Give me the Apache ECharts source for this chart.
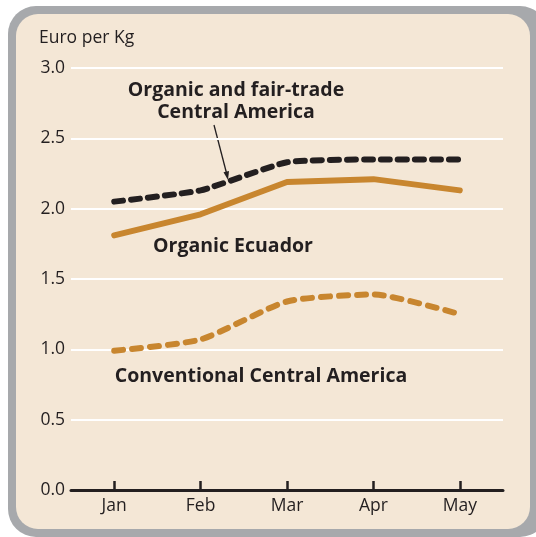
<!DOCTYPE html>
<html>
<head>
<meta charset="utf-8">
<script src="https://cdn.jsdelivr.net/npm/echarts@6/dist/echarts.min.js"></script>
<style>
html,body{margin:0;padding:0;background:#ffffff;}
#c{width:536px;height:537px;}
</style>
</head>
<body>
<div id="c"></div>
<script>
var months = ['Jan', 'Feb', 'Mar', 'Apr', 'May'];
var organicFairTradeCA = [2.05, 2.13, 2.33, 2.35, 2.35];
var organicEcuador = [1.81, 1.96, 2.19, 2.21, 2.13];
var conventionalCA = [0.99, 1.07, 1.34, 1.39, 1.25];
var yTicks = [0, 0.5, 1.0, 1.5, 2.0, 2.5, 3.0];

var ORANGE = '#c8862f';
var DARK = '#231f20';
var FONT = '"Open Sans", sans-serif';

var chart = echarts.init(document.getElementById('c'), null, {renderer: 'canvas'});
chart.setOption({
  animation: false,
  backgroundColor: '#ffffff',
  grid: {left: 71, right: 33, top: 68, bottom: 47},
  xAxis: {
    type: 'category',
    data: months,
    boundaryGap: true,
    axisLine: {lineStyle: {color: DARK, width: 3}},
    axisTick: {show: true, inside: true, alignWithLabel: true, length: 9, lineStyle: {color: DARK, width: 2.5}},
    axisLabel: {color: DARK, fontSize: 17.5, fontFamily: FONT, margin: 7}
  },
  yAxis: {
    type: 'value',
    min: yTicks[0],
    max: yTicks[yTicks.length - 1],
    interval: 0.5,
    axisLine: {show: false},
    axisTick: {show: false},
    axisLabel: {color: DARK, fontSize: 17.5, fontFamily: FONT, margin: 6,
      formatter: function (v) { return v.toFixed(1); }},
    splitLine: {lineStyle: {color: '#ffffff', width: 2}}
  },
  series: [
    {
      name: 'Conventional Central America', type: 'line', data: conventionalCA,
      symbol: 'none', smooth: 0.2, z: 3,
      lineStyle: {color: ORANGE, width: 6, type: [9, 9], cap: 'round', join: 'round'}
    },
    {
      name: 'Organic Ecuador', type: 'line', data: organicEcuador,
      symbol: 'none', smooth: false, z: 3,
      lineStyle: {color: ORANGE, width: 6, cap: 'round', join: 'round'}
    },
    {
      name: 'Organic and fair-trade Central America', type: 'line', data: organicFairTradeCA,
      symbol: 'none', smooth: 0.15, z: 4,
      lineStyle: {color: DARK, width: 6, type: [9, 8], cap: 'round', join: 'round'}
    }
  ],
  graphic: [
    {type: 'rect', z: -10, silent: true, shape: {x: 8, y: 6, width: 540, height: 531, r: 28}, style: {fill: '#a7a9ac'}},
    {type: 'rect', z: -9, silent: true, shape: {x: 16, y: 14, width: 514, height: 515, r: 22}, style: {fill: '#f4e7d6'}},
    {type: 'text', x: 39, y: 38, style: {text: 'Euro per Kg', fill: DARK, font: '17.5px ' + FONT, verticalAlign: 'middle'}},
    {type: 'text', x: 236, y: 90, style: {text: 'Organic and fair-trade', fill: DARK, font: 'bold 19.5px ' + FONT, align: 'center', verticalAlign: 'middle'}},
    {type: 'text', x: 236, y: 112, style: {text: 'Central America', fill: DARK, font: 'bold 19.5px ' + FONT, align: 'center', verticalAlign: 'middle'}},
    {type: 'text', x: 233, y: 246, style: {text: 'Organic Ecuador', fill: DARK, font: 'bold 19.5px ' + FONT, align: 'center', verticalAlign: 'middle'}},
    {type: 'text', x: 261, y: 376, style: {text: 'Conventional Central America', fill: DARK, font: 'bold 19.5px ' + FONT, align: 'center', verticalAlign: 'middle'}},
    {type: 'line', shape: {x1: 214, y1: 125, x2: 226.5, y2: 173}, style: {stroke: DARK, lineWidth: 1.3}},
    {type: 'polygon', shape: {points: [[228, 180], [229, 171], [223.5, 172.3]]}, style: {fill: DARK}}
  ]
});
</script>
</body>
</html>
